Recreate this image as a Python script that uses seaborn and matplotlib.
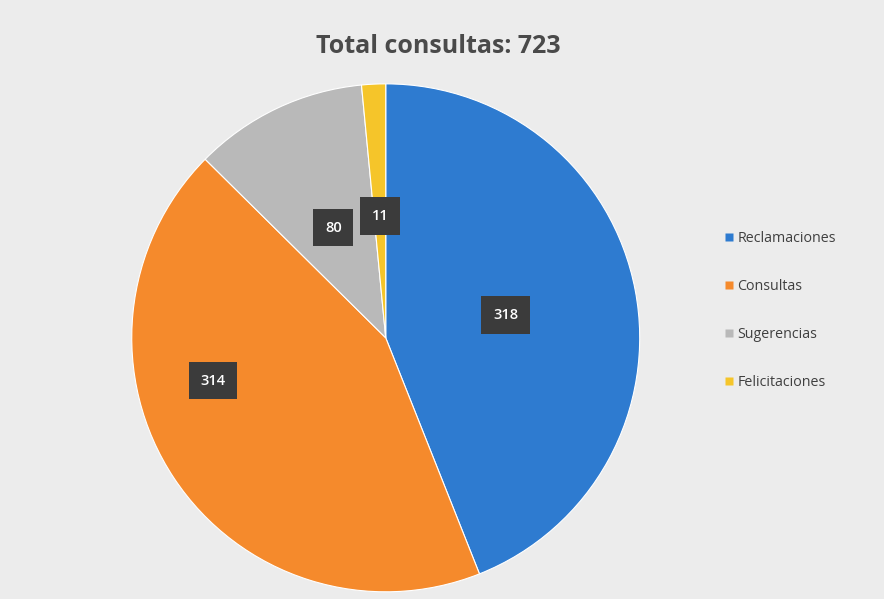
import numpy as np
import matplotlib
matplotlib.use("Agg")
import matplotlib.pyplot as plt
import seaborn as sns
from matplotlib.lines import Line2D

# Data
categories = ["Reclamaciones", "Consultas", "Sugerencias", "Felicitaciones"]
values = [318, 314, 80, 11]
colors = ["#2e7bd0", "#f58a2c", "#b9b9b9", "#f5c52a"]
# where each label sits inside its wedge: (fraction along the wedge, radius)
label_pos = [(0.5, 0.48), (0.625, 0.70), (0.5, 0.48), (0.5, 0.48)]

sns.set_theme(style="white")
plt.rcParams["font.family"] = ["Open Sans", "DejaVu Sans"]

fig = plt.figure(figsize=(8.84, 5.99), dpi=100)
fig.patch.set_facecolor("#ececec")

ax = fig.add_axes([0.149, 0.012, 0.5747, 0.848])
ax.set_facecolor("#ececec")
wedges, _ = ax.pie(values, colors=colors, startangle=90, counterclock=False,
                   radius=1.0, wedgeprops=dict(edgecolor="white", linewidth=0.8))
ax.set_xlim(-1, 1)
ax.set_ylim(-1, 1)
ax.set_aspect("equal")
ax.axis("off")

# value labels in dark boxes
for w, v, (f, d) in zip(wedges, values, label_pos):
    # wedges go clockwise: theta2 is the start, theta1 the end
    ang = np.deg2rad(w.theta2 - f * (w.theta2 - w.theta1))
    ax.text(d * np.cos(ang), d * np.sin(ang), str(v), ha="center", va="center",
            color="white", fontsize=10.5, fontweight="semibold",
            bbox=dict(boxstyle="square,pad=0.8", fc="#3b3b3b", ec="none"))

fig.text(0.496, 0.922, "Total consultas: 723", ha="center", va="center",
         fontsize=18, fontweight="bold", color="#4a4a4a")

handles = [Line2D([], [], marker="s", linestyle="none", markersize=6,
                  markerfacecolor=c, markeredgecolor="none") for c in colors]
leg = fig.legend(handles, categories, loc="center left",
                 bbox_to_anchor=(0.802, 0.482), frameon=False,
                 fontsize=10.3, labelspacing=2.3, handletextpad=0.1,
                 handlelength=1.0)
for t in leg.get_texts():
    t.set_color("#404040")

fig.savefig("out.png", dpi=100, facecolor=fig.get_facecolor())
